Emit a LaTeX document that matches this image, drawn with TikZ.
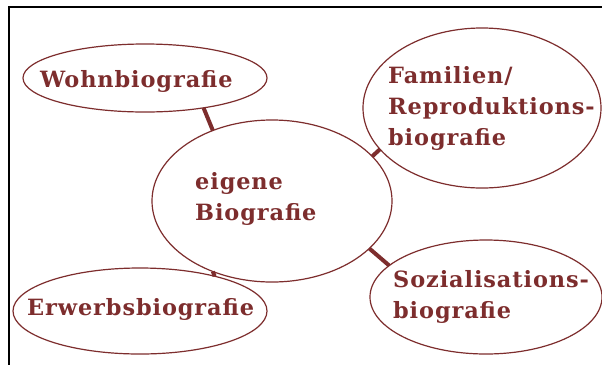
\documentclass[tikz,border=0pt]{standalone}
\usepackage{fontspec}
\setmainfont{DejaVu Serif}
\newfontfamily\biofont[LetterSpace=4]{DejaVu Serif}
\usetikzlibrary{shapes.geometric}
\definecolor{bio}{RGB}{125,45,45}
\tikzset{
  bubble/.style={draw=bio, line width=1.2bp, ellipse, inner sep=0pt, outer sep=0pt},
  label/.style={text=bio, font=\biofont\bfseries\fontsize{22.5}{31}\selectfont, inner sep=0pt, anchor=base west, align=left},
  link/.style={draw=bio, line width=4bp}
}
\begin{document}
\begin{tikzpicture}[x=1bp,y=-1bp]
\useasboundingbox (0,0) rectangle (602,365);
\fill[white] (0,0) rectangle (602,365);
\draw[black, line width=2bp] (602,6.5) -- (9,6.5) -- (9,365);
% bubbles
\node[bubble, minimum width=244bp, minimum height=68bp] (wohn) at (145,78) {};
\node[bubble, minimum width=240bp, minimum height=162bp] (eig) at (272,201) {};
\node[bubble, minimum width=238bp, minimum height=160bp] (fam) at (482,108) {};
\node[bubble, minimum width=232bp, minimum height=114bp] (soz) at (486,297) {};
\node[bubble, minimum width=254bp, minimum height=86bp] (erw) at (140,311) {};
% texts (base anchor = last line)
\node[label] (wohnT) at (40,87) {Wohnbiografie};
\node[label] (eigT) at (195,220) {eigene\\Biografie};
\node[label] (famT) at (388,145) {Familien/\\Reproduktions-\\biografie};
\node[label] (sozT) at (393,318) {Sozialisations-\\biografie};
\node[label] (erwT) at (27,315) {Erwerbsbiografie};
% links
\draw[link] (wohn.-27) -- (eig.130);
\draw[link] (fam.202) -- (eig.24);
\draw[link] (soz.162.6) -- (eig.-26);
\draw[link] (erw.25.6) -- (eig.230);
\end{tikzpicture}
\end{document}
